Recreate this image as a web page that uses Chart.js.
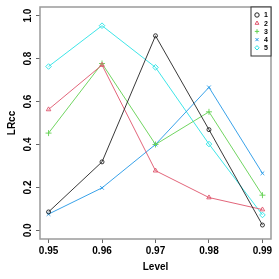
<!DOCTYPE html>
<html>
<head>
<meta charset="utf-8">
<script src="https://cdn.jsdelivr.net/npm/chart.js@4/dist/chart.umd.min.js"></script>
<style>
  html, body { margin: 0; padding: 0; background: #fff; }
  #wrap { width: 279px; height: 279px; }
</style>
</head>
<body>
<div id="wrap"><canvas id="lrcc_chart"></canvas></div>
<script>
// values
const levels = [0.95, 0.96, 0.97, 0.98, 0.99];
const lrcc1 = [0.086, 0.319, 0.906, 0.469, 0.025];
const lrcc2 = [0.563, 0.770, 0.278, 0.153, 0.097];
const lrcc3 = [0.453, 0.777, 0.400, 0.552, 0.164];
const lrcc4 = [0.076, 0.198, 0.400, 0.666, 0.266];
const lrcc5 = [0.763, 0.953, 0.759, 0.402, 0.072];
const seriesNames = ['1', '2', '3', '4', '5'];
const yTicks = [0.0, 0.2, 0.4, 0.6, 0.8, 1.0];

const colors = ['#222222', '#DF536B', '#61D04F', '#2297E6', '#28E2E5'];
const shapes = ['circle', 'triangle', 'cross', 'crossRot', 'rectRot'];
const radii = [2, 2.6, 3, 2.6, 2.8];
const allSeries = [lrcc1, lrcc2, lrcc3, lrcc4, lrcc5];

const datasets = allSeries.map(function (vals, i) {
    return {
        label: seriesNames[i],
        data: levels.map(function (lv, j) { return { x: lv, y: vals[j] }; }),
        showLine: true,
        borderColor: colors[i],
        backgroundColor: 'rgba(0,0,0,0)',
        borderWidth: 0.9,
        pointStyle: shapes[i],
        pointRadius: radii[i],
        pointBorderWidth: 0.9,
        pointBackgroundColor: 'rgba(0,0,0,0)',
        pointBorderColor: colors[i],
        tension: 0
    };
});

const boldFont = 'bold 10px "Liberation Sans", Arial, sans-serif';

// frame, rotated y tick labels and the legend box, R style
const rStyle = {
    id: 'rStyle',
    afterDraw: function (chart) {
        const ctx = chart.ctx;
        const a = chart.chartArea;
        ctx.save();
        ctx.strokeStyle = '#9a9a9a';
        ctx.lineWidth = 1.5;
        ctx.strokeRect(a.left, a.top, a.right - a.left, a.bottom - a.top);

        const ys = chart.scales.y;
        ctx.fillStyle = '#000';
        ctx.font = boldFont;
        ctx.textAlign = 'center';
        ctx.textBaseline = 'middle';
        yTicks.forEach(function (v) {
            ctx.save();
            ctx.translate(a.left - 12, ys.getPixelForValue(v));
            ctx.rotate(-Math.PI / 2);
            ctx.fillText(v.toFixed(1), 0, 0);
            ctx.restore();
        });

        // legend
        const lx = a.right - 20, ly = a.top, lw = 20, lh = 49;
        ctx.fillStyle = '#fff';
        ctx.fillRect(lx, ly, lw, lh);
        ctx.strokeStyle = '#333';
        ctx.lineWidth = 1;
        ctx.strokeRect(lx, ly, lw, lh);
        ctx.font = 'bold 7px "Liberation Sans", Arial, sans-serif';
        chart.data.datasets.forEach(function (ds, i) {
            const yy = ly + 8 + i * 8.2;
            ctx.strokeStyle = ds.borderColor;
            ctx.fillStyle = 'rgba(0,0,0,0)';
            ctx.lineWidth = 1;
            Chart.helpers.drawPoint(ctx, { pointStyle: ds.pointStyle, radius: 2.2, borderWidth: 1, rotation: 0 }, lx + 6, yy);
            ctx.fillStyle = '#000';
            ctx.fillText(ds.label, lx + 15, yy + 0.5);
        });
        ctx.restore();
    }
};

const config_lrcc = {
    type: 'scatter',
    data: { datasets: datasets },
    options: {
        responsive: true,
        maintainAspectRatio: false,
        animation: false,
        layout: { padding: { top: 7, right: 8, left: 0, bottom: 0 } },
        plugins: { legend: { display: false }, tooltip: { enabled: false } },
        scales: {
            x: {
                type: 'linear',
                min: 0.9484,
                max: 0.9916,
                afterBuildTicks: function (s) { s.ticks = levels.map(function (v) { return { value: v }; }); },
                afterFit: function (s) { s.height = 40; },
                ticks: {
                    autoSkip: false,
                    maxRotation: 0,
                    padding: 2,
                    color: '#000',
                    font: { family: '"Liberation Sans", Arial, sans-serif', size: 10, weight: 'bold' },
                    callback: function (v) { return Number(v).toFixed(2); }
                },
                grid: { drawOnChartArea: false, drawTicks: true, tickLength: 4, color: '#666' },
                border: { display: false },
                title: {
                    display: true,
                    text: 'Level',
                    color: '#000',
                    padding: { top: 3, bottom: 6 },
                    font: { family: '"Liberation Sans", Arial, sans-serif', size: 10, weight: 'bold' }
                }
            },
            y: {
                min: -0.04,
                max: 1.04,
                afterBuildTicks: function (s) { s.ticks = yTicks.map(function (v) { return { value: v }; }); },
                afterFit: function (s) { s.width = 40; },
                ticks: { display: false },
                grid: { drawOnChartArea: false, drawTicks: true, tickLength: 4, color: '#666' },
                border: { display: false },
                title: {
                    display: true,
                    text: 'LRcc',
                    color: '#000',
                    padding: { top: 6, bottom: 0 },
                    font: { family: '"Liberation Sans", Arial, sans-serif', size: 10, weight: 'bold' }
                }
            }
        }
    },
    plugins: [rStyle]
};

var ctx = document.getElementById('lrcc_chart').getContext('2d');
var lrcc_chart = new Chart(ctx, config_lrcc);
</script>
</body>
</html>
